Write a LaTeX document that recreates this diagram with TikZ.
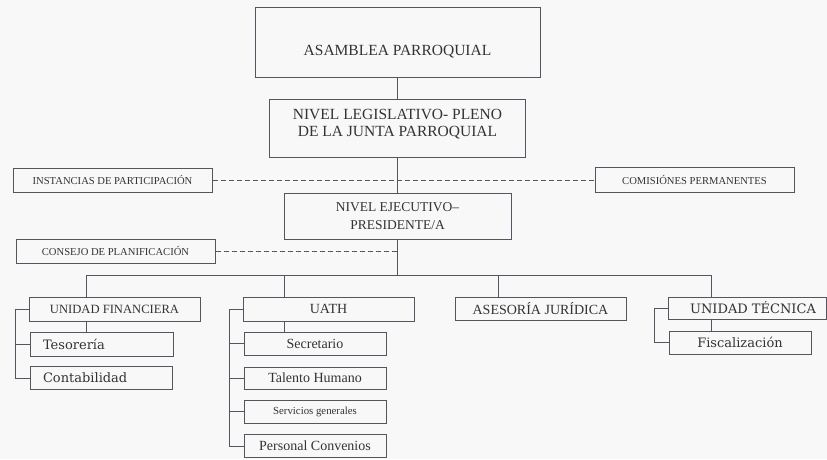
\documentclass[tikz,border=0pt]{standalone}
\usepackage{fontspec}
\setmainfont{Liberation Serif}
\newfontfamily\wideserif{DejaVu Serif}
\definecolor{linec}{HTML}{55555F}
\definecolor{txt}{HTML}{333333}
\definecolor{dashc}{HTML}{4F5F4F}
\definecolor{bg}{HTML}{F8F8F8}
\begin{document}
\begin{tikzpicture}[x=1pt,y=-1pt,
  box/.style={draw=linec, line width=1pt, inner sep=0pt, text=txt, align=center},
  leftbox/.style={box, align=left, inner xsep=13pt},
  ln/.style={draw=linec, line width=1pt},
  dsh/.style={draw=dashc, line width=0.9pt, dash pattern=on 5pt off 3pt},
  fA/.style={font=\fontsize{15.5}{17}\selectfont},
  fB/.style={font=\fontsize{13.5}{18}\selectfont},
  fS/.style={font=\fontsize{10.6}{12}\selectfont},
  fM/.style={font=\fontsize{12.6}{14}\selectfont},
  fL/.style={font=\fontsize{14}{16}\selectfont},
  fW/.style={font=\wideserif\fontsize{13}{15}\selectfont}]
\fill[bg] (0,0) rectangle (827,459);
\useasboundingbox (0,0) rectangle (827,459);

% top chain
\node[box, fA, minimum width=285pt, minimum height=70pt, text height=26pt, text depth=0pt] (asam) at (397.5,42) {ASAMBLEA PARROQUIAL};
\node[box, fA, minimum width=256pt, minimum height=58pt] (leg) at (397.5,128) {NIVEL LEGISLATIVO- PLENO\\DE LA JUNTA PARROQUIAL\rule[-11pt]{0pt}{11pt}};
\node[box, fB, minimum width=227pt, minimum height=46pt] (eje) at (397.5,216) {NIVEL EJECUTIVO--\\PRESIDENTE/A};

% side boxes
\node[box, fS, minimum width=199pt, minimum height=24pt] (inst) at (112.5,180) {INSTANCIAS DE PARTICIPACIÓN};
\node[box, fS, minimum width=199pt, minimum height=25pt] (comi) at (694.5,180) {COMISIÓNES PERMANENTES};
\node[box, fS, minimum width=199pt, minimum height=24pt] (cons) at (115.5,251) {CONSEJO DE PLANIFICACIÓN};

% units
\node[box, fM, minimum width=171pt, minimum height=24pt] (uf) at (114.5,309) {UNIDAD FINANCIERA};
\node[leftbox, fW, text width=117pt, minimum height=24pt] (teso) at (101.5,344) {Tesorería};
\node[leftbox, fW, text width=116pt, minimum height=23pt] (cont) at (101,378) {Contabilidad};

\node[box, fL, minimum width=171pt, minimum height=24pt] (uath) at (328.5,309) {UATH};
\node[box, fL, minimum width=142pt, minimum height=23pt] (secr) at (315,343.5) {Secretario};
\node[box, fL, minimum width=142pt, minimum height=22pt] (tal) at (315,378) {Talento Humano};
\node[box, font=\fontsize{10.8}{12}\selectfont, minimum width=142pt, minimum height=23pt] (serv) at (315,411.5) {Servicios generales};
\node[box, fL, minimum width=142pt, minimum height=23pt] (pers) at (315,446) {Personal Convenios};

\node[box, fL, minimum width=171pt, minimum height=23pt] (ases) at (540.5,308.5) {ASESORÍA JURÍDICA};
\node[box, fW, minimum width=158pt, minimum height=22pt] (tec) at (747,308) {\hspace*{12pt}UNIDAD TÉCNICA};
\node[box, fW, minimum width=142pt, minimum height=23pt] (fisc) at (740,342.5) {Fiscalización};

% trunk
\coordinate (bus) at (397.5,275);
\draw[ln] (asam.south) -- (leg.north);
\draw[ln] (leg.south) -- (eje.north);
\draw[ln] (eje.south) -- (bus);

% dashed links
\draw[dsh] (inst.east) -- (inst.east -| comi.west);
\draw[dsh] (cons.east) -- (cons.east -| eje.south);

% bus and drops
\coordinate (dUF) at (86,275);
\coordinate (dUA) at (284,275);
\coordinate (dAS) at (498,275);
\coordinate (dTE) at (711,275);
\draw[ln] (dUF) -- (dTE);
\draw[ln] (dUF) -- (dUF |- uf.north);
\draw[ln] (dUA) -- (dUA |- uath.north);
\draw[ln] (dAS) -- (dAS |- ases.north);
\draw[ln] (dTE) -- (dTE |- tec.north);

% child connectors
\draw[ln] (dUF |- uf.south) -- (dUF |- teso.north);
\draw[ln] (dUA |- uath.south) -- (dUA |- secr.north);
\draw[ln] (dTE |- tec.south) -- (dTE |- fisc.north);

% brackets
\coordinate (bUF) at (15,309);
\coordinate (bUA) at (229,309);
\coordinate (bTE) at (654,308);
\draw[ln] (uf.west) -- (uf.west -| bUF) |- (cont.west);
\draw[ln] (teso.west -| bUF) -- (teso.west);
\draw[ln] (uath.west) -- (uath.west -| bUA) |- (pers.west);
\draw[ln] (secr.west -| bUA) -- (secr.west);
\draw[ln] (tal.west -| bUA) -- (tal.west);
\draw[ln] (serv.west -| bUA) -- (serv.west);
\draw[ln] (tec.west) -- (tec.west -| bTE) |- (fisc.west);
\end{tikzpicture}
\end{document}
